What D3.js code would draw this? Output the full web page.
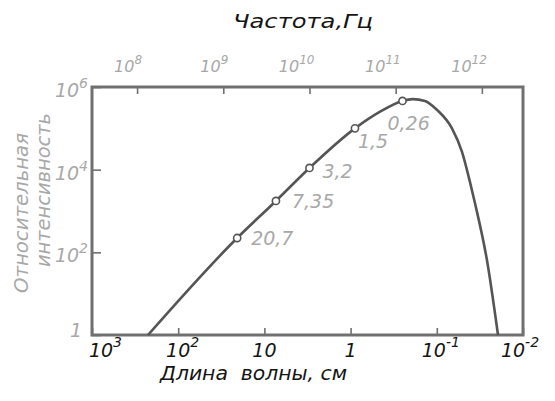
<!DOCTYPE html>
<html>
<head>
<meta charset="utf-8">
<script src="https://cdn.jsdelivr.net/npm/d3@7"></script>
<style>
  body { margin: 0; background: #fff; }
  text { font-family: "DejaVu Sans", sans-serif; font-style: italic; }
</style>
</head>
<body>
<div id="wrapper"></div>
<script>
// curve (wavelength in cm, relative intensity)
const curveLambda = [224, 20.7, 7.35, 3.0, 0.89, 0.46, 0.25, 0.19, 0.137, 0.0995, 0.0667, 0.051, 0.0412, 0.0361, 0.0262, 0.0195];
const curveIntensity = [1, 222, 1750, 11000, 1.0e5, 2.5e5, 4.6e5, 5.1e5, 4.6e5, 2.8e5, 1.0e5, 2.7e4, 5000, 1560, 65, 1];

// measured points
const markerLambda = [20.7, 7.35, 3.0, 0.89, 0.25];
const markerIntensity = [222, 1750, 11000, 1.0e5, 4.6e5];
const markerLabels = ["20,7", "7,35", "3,2", "1,5", "0,26"];

// ticks
const wavelengthTicks = [1e3, 1e2, 10, 1, 1e-1, 1e-2];
const wavelengthLabels = [["10", "3"], ["10", "2"], ["10", ""], ["1", ""], ["10", "-1"], ["10", "-2"]];
const frequencyTicks = [1e8, 1e9, 1e10, 1e11, 1e12];
const frequencyLabels = [["10", "8"], ["10", "9"], ["10", "10"], ["10", "11"], ["10", "12"]];
const intensityTicks = [1, 1e2, 1e4, 1e6];
const intensityLabels = [["1", ""], ["10", "2"], ["10", "4"], ["10", "6"]];

const speedOfLight = 3e10; // cm/s

function drawChart() {
    let dimensions = {
        width: 555,
        height: 401,
        margin: { top: 87, right: 32, bottom: 66, left: 92 },
    };
    dimensions.boundedWidth = dimensions.width - dimensions.margin.left - dimensions.margin.right;
    dimensions.boundedHeight = dimensions.height - dimensions.margin.top - dimensions.margin.bottom;

    const frameColor = "#707070";
    const lineColor = "#555";
    const grey = "#a8a8a8";
    const black = "#151515";

    const svg = d3.select("#wrapper")
        .append("svg")
        .attr("width", dimensions.width)
        .attr("height", dimensions.height);

    const bounds = svg.append("g")
        .attr("transform", `translate(${dimensions.margin.left},${dimensions.margin.top})`);

    const xScale = d3.scaleLog()
        .domain([1e3, 1e-2])
        .range([0, dimensions.boundedWidth]);
    const freqScale = d3.scaleLog()
        .domain([speedOfLight / 1e3, speedOfLight / 1e-2])
        .range([0, dimensions.boundedWidth]);
    const yScale = d3.scaleLog()
        .domain([1, 1e6])
        .range([dimensions.boundedHeight, 0]);

    // inward ticks
    const styleAxis = g => {
        g.select(".domain").remove();
        g.selectAll(".tick line").attr("stroke", frameColor).attr("stroke-width", 1.6);
    };
    bounds.append("g")
        .attr("transform", `translate(0,${dimensions.boundedHeight})`)
        .call(d3.axisBottom(xScale).tickValues(wavelengthTicks).tickSizeInner(-7).tickSizeOuter(0).tickFormat(""))
        .call(styleAxis);
    bounds.append("g")
        .call(d3.axisTop(freqScale).tickValues(frequencyTicks).tickSizeInner(-7).tickSizeOuter(0).tickFormat(""))
        .call(styleAxis);
    bounds.append("g")
        .call(d3.axisLeft(yScale).tickValues(intensityTicks).tickSizeInner(-9).tickSizeOuter(0).tickFormat(""))
        .call(styleAxis);

    // frame
    bounds.append("rect")
        .attr("width", dimensions.boundedWidth)
        .attr("height", dimensions.boundedHeight)
        .attr("fill", "none")
        .attr("stroke", frameColor)
        .attr("stroke-width", 3);

    // curve
    const curveData = curveLambda.map((l, i) => ({ l: l, v: curveIntensity[i] }));
    const lineGenerator = d3.line()
        .x(d => xScale(d.l))
        .y(d => yScale(d.v))
        .curve(d3.curveMonotoneX);
    bounds.append("path")
        .attr("d", lineGenerator(curveData))
        .attr("fill", "none")
        .attr("stroke", lineColor)
        .attr("stroke-width", 2.6);

    // markers + labels
    const labelOffsets = [[14, 7], [16, 7], [13, 10], [3, 20], [-15, 29]];
    markerLambda.forEach((l, i) => {
        const cx = xScale(l), cy = yScale(markerIntensity[i]);
        bounds.append("circle")
            .attr("cx", cx).attr("cy", cy).attr("r", 3.6)
            .attr("fill", "#fff")
            .attr("stroke", lineColor)
            .attr("stroke-width", 1.6);
        bounds.append("text")
            .attr("x", cx + labelOffsets[i][0])
            .attr("y", cy + labelOffsets[i][1])
            .attr("fill", grey)
            .style("font-size", "19px")
            .text(markerLabels[i]);
    });

    // power-of-ten label helper
    function powerLabel(parent, parts, opts) {
        const t = parent.append("text")
            .attr("y", opts.y)
            .attr("fill", opts.color);
        const base = t.append("tspan")
            .style("font-size", opts.size + "px")
            .text(parts[0]);
        if (parts[1]) {
            t.append("tspan")
                .attr("dy", -opts.supDy)
                .style("font-size", opts.supSize + "px")
                .text(parts[1]);
        }
        if (opts.anchor === "end") {
            t.attr("text-anchor", "end").attr("x", opts.x);
        } else {
            const w = base.node().getComputedTextLength();
            t.attr("x", opts.x - w / 2);
        }
        return t;
    }

    // bottom labels (wavelength)
    const bottomShift = [9, 0, 0, 0, -3, -10];
    wavelengthTicks.forEach((v, i) => {
        powerLabel(svg, wavelengthLabels[i], {
            x: dimensions.margin.left + xScale(v) + bottomShift[i],
            y: 357, size: 19, supSize: 14, supDy: 10, color: black
        });
    });

    // top labels (frequency)
    frequencyTicks.forEach((v, i) => {
        powerLabel(svg, frequencyLabels[i], {
            x: dimensions.margin.left + freqScale(v) + 5,
            y: 72, size: 16, supSize: 12, supDy: 8, color: grey, anchor: "end"
        });
    });

    // left labels (intensity)
    intensityTicks.forEach((v, i) => {
        powerLabel(svg, intensityLabels[i], {
            x: v === 1 ? 82 : 88,
            y: dimensions.margin.top + yScale(v) + (v === 1 ? 2 : 10),
            size: 19, supSize: 14, supDy: 9, color: grey, anchor: "end"
        });
    });

    // titles
    svg.append("text")
        .attr("x", 233).attr("y", 28)
        .attr("fill", black)
        .attr("textLength", 140)
        .attr("lengthAdjust", "spacingAndGlyphs")
        .style("font-size", "20px")
        .text("Частота,Гц");

    svg.append("text")
        .attr("x", 160).attr("y", 380)
        .attr("fill", black)
        .attr("textLength", 187)
        .attr("lengthAdjust", "spacingAndGlyphs")
        .style("font-size", "20px")
        .style("white-space", "pre")
        .text("Длина  волны, см");

    svg.append("text")
        .attr("transform", "translate(28,213) rotate(-90)")
        .attr("text-anchor", "middle")
        .attr("fill", grey)
        .attr("textLength", 160)
        .attr("lengthAdjust", "spacingAndGlyphs")
        .style("font-size", "20px")
        .text("Относительная");

    svg.append("text")
        .attr("transform", "translate(50,190) rotate(-90)")
        .attr("text-anchor", "middle")
        .attr("fill", grey)
        .attr("textLength", 154)
        .attr("lengthAdjust", "spacingAndGlyphs")
        .style("font-size", "20px")
        .text("интенсивность");
}

drawChart();
</script>
</body>
</html>
